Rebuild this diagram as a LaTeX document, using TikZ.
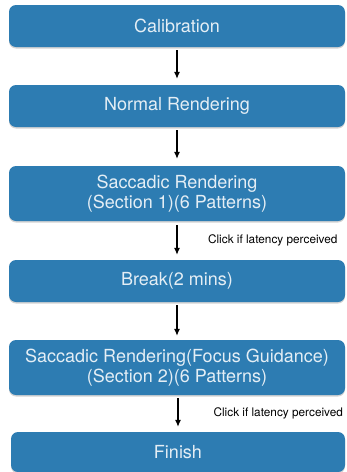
\documentclass[tikz,border=0pt]{standalone}
\usepackage{fontspec}
\setmainfont{TeX Gyre Heros}
\usepackage{tikz}
\usetikzlibrary{arrows.meta,shadows}
\definecolor{boxblue}{HTML}{2D7CB2}
\definecolor{boxtext}{HTML}{E4EEF5}
\tikzset{
  stage/.style={draw=none,fill=boxblue,rounded corners=7pt,minimum width=336pt,
    text=boxtext,font=\fontsize{18}{20.5}\selectfont,align=center,
    drop shadow={shadow xshift=0pt,shadow yshift=-1.5pt,opacity=0.35}},
  flow/.style={-{Latex[length=7pt,width=6pt]},line width=1.1pt},
  note/.style={font=\fontsize{11.8}{14}\selectfont,anchor=east}
}
\begin{document}
\begin{tikzpicture}[x=1pt,y=-1pt]
\useasboundingbox (0,0) rectangle (346,472);
\node [stage,minimum height=42pt] (calib) at (177,26) {Calibration};
\node [stage,minimum height=42pt] (normal) at (177,106) {Normal Rendering};
\node [stage,minimum height=55pt] (sacc1) at (177,193.5) {Saccadic Rendering\\(Section 1)(6 Patterns)};
\node [stage,minimum height=42pt] (break) at (177,281) {Break(2 mins)};
\node [stage,minimum height=55pt] (sacc2) at (177,367.5) {Saccadic Rendering(Focus Guidance)\\(Section 2)(6 Patterns)};
\node [stage,minimum height=40pt,minimum width=334pt] (finish) at (178,452) {Finish};
% arrows
\draw [flow] ([yshift=-3pt]calib.south) -- ([yshift=6pt]normal.north);
\draw [flow] ([yshift=-3pt]normal.south) -- ([yshift=7pt]sacc1.north);
\draw [flow] ([yshift=-4pt]sacc1.south) -- ([yshift=5pt]break.north);
\draw [flow] ([yshift=-3pt]break.south) -- ([yshift=4pt]sacc2.north);
\draw [flow] ([xshift=1pt,yshift=-3pt]sacc2.south) -- ([yshift=5pt]finish.north);
% notes
\node [note] (note1) at (341,240) {Click if latency perceived};
\node [note] (note2) at (346.5,413) {Click if latency perceived};
\end{tikzpicture}
\end{document}
